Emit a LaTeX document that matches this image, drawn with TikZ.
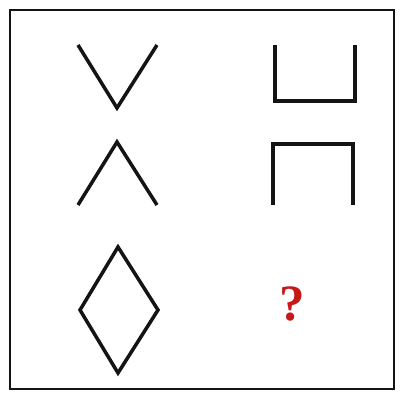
\documentclass[tikz,border=0pt]{standalone}
\usepackage{fontspec}
\setmainfont{Liberation Serif}
\definecolor{ink}{RGB}{20,20,20}
\definecolor{accent}{RGB}{200,25,25}
\tikzset{
  frame/.style={draw=ink, line width=1.3pt},
  glyph/.style={draw=ink, line width=2pt, line join=miter},
  query/.style={text=accent, font=\fontsize{29}{33}\selectfont\bfseries, inner sep=0pt},
}
\begin{document}
\begin{tikzpicture}[x=0.02cm, y=-0.02cm]
    \useasboundingbox (0,0) rectangle (400,394);
    \draw[frame] (10,10) rectangle (394,389);
    \draw[glyph] (78,45) -- (117,108) -- (157,45);
    \draw[glyph] (78,205) -- (117,142) -- (157,205);
    \draw[glyph] (118,247) -- (158,310) -- (118,373) -- (80,310) -- cycle;
    \draw[glyph] (275,45) -- (275,101) -- (355,101) -- (355,45);
    \draw[glyph] (273,205) -- (273,144) -- (353,144) -- (353,205);
    \node[query] (q) at (292,304) {?};
\end{tikzpicture}
\end{document}
